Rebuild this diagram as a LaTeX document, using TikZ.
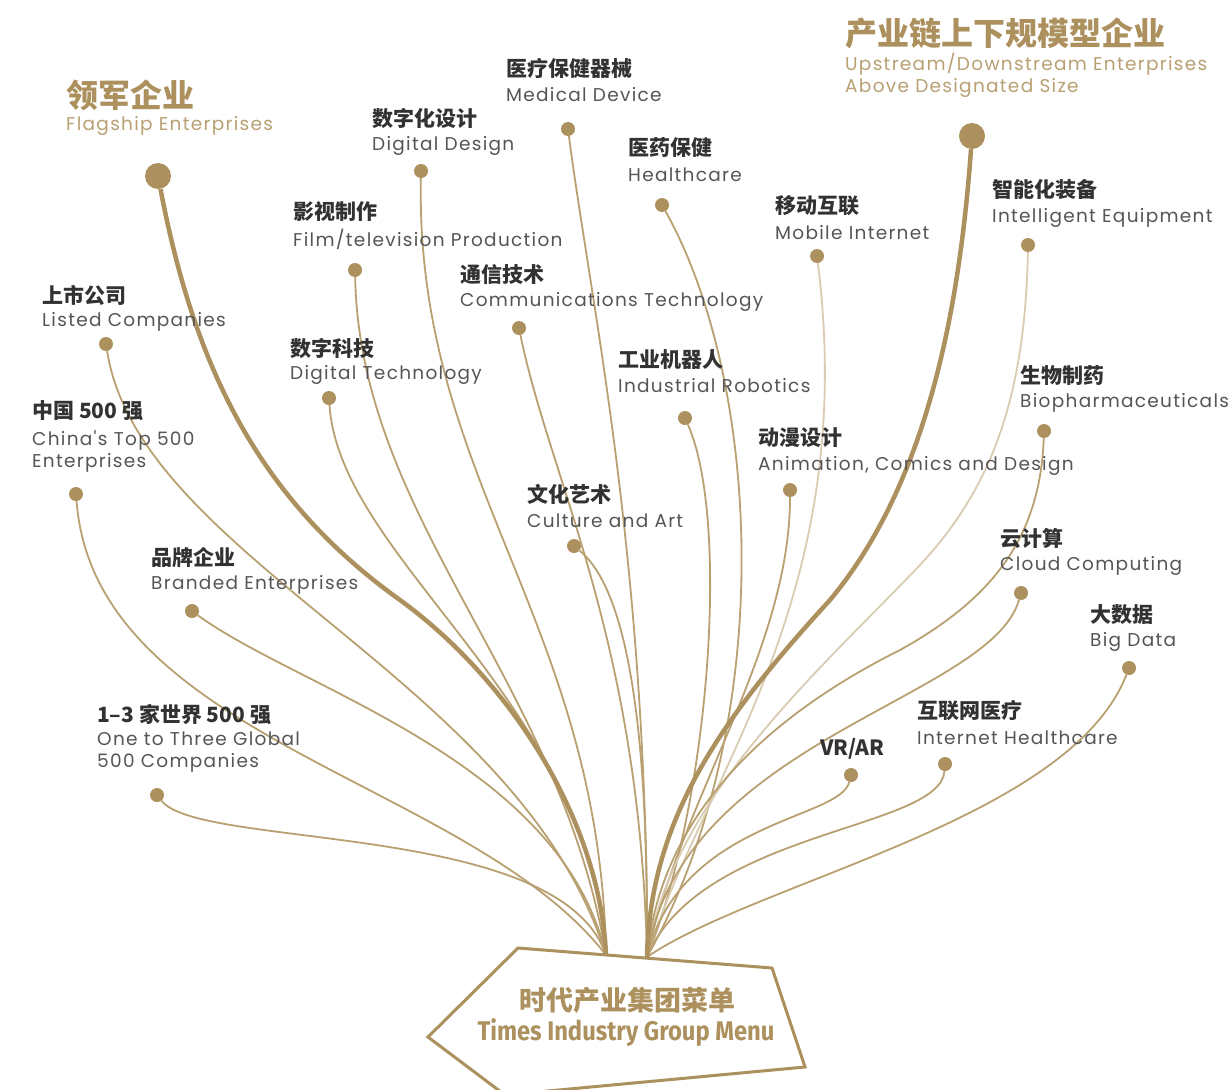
\documentclass[tikz,border=0pt]{standalone}
\usepackage{fontspec}
\newfontfamily\cjk{Noto Sans CJK SC}
\newfontfamily\enf[LetterSpace=7]{Poppins}
\newfontfamily\boxf[FakeStretch=0.88]{Fira Sans}
\definecolor{gold}{RGB}{172,145,94}
\definecolor{goldtxt}{RGB}{185,160,115}
\definecolor{linec}{RGB}{185,160,112}
\definecolor{faint}{RGB}{218,204,178}
\definecolor{cntext}{RGB}{50,50,50}
\definecolor{entext}{RGB}{85,85,85}
\tikzset{
  cn/.style={font=\cjk\bfseries\fontsize{21}{23}\selectfont, text=cntext, anchor=west, inner sep=0},
  en/.style={font=\enf\fontsize{18.5}{22}\selectfont, text=entext, anchor=west, inner sep=0, align=left},
  cnbig/.style={font=\cjk\bfseries\fontsize{32}{34}\selectfont, text=gold, anchor=west, inner sep=0},
  engold/.style={font=\enf\fontsize{18.5}{22}\selectfont, text=goldtxt, anchor=west, inner sep=0, align=left},
  dot/.style={circle, fill=gold, minimum size=14pt, inner sep=0},
  bigdot/.style={circle, fill=gold, minimum size=26pt, inner sep=0},
  link/.style={draw=linec, line width=1.8pt},
  flink/.style={draw=faint, line width=1.8pt},
  trunk/.style={draw=gold, line width=4.5pt},
}
\begin{document}
\begin{tikzpicture}[x=1pt,y=-1pt]
\useasboundingbox[fill=white] (0,0) rectangle (1230,1089);
% trunk ends
\coordinate (L) at (606,955);
\coordinate (R) at (647,957);
% dots
\node[bigdot] (dFlag) at (158,176) {};
\node[bigdot] (dUp) at (972,136) {};
\node[dot] (dMed) at (568,129) {};
\node[dot] (dDD) at (421,171) {};
\node[dot] (dHC) at (662,205) {};
\node[dot] (dFilm) at (355,270) {};
\node[dot] (dMob) at (817,256) {};
\node[dot] (dInt) at (1028,245) {};
\node[dot] (dCom) at (519,328) {};
\node[dot] (dList) at (106,344) {};
\node[dot] (dDT) at (329,398) {};
\node[dot] (dRob) at (685,418) {};
\node[dot] (dBio) at (1044,431) {};
\node[dot] (dChina) at (76,494) {};
\node[dot] (dAni) at (790,490) {};
\node[dot] (dCul) at (574,546) {};
\node[dot] (dCloud) at (1021,593) {};
\node[dot] (dBrand) at (192,611) {};
\node[dot] (dBig) at (1129,668) {};
\node[dot] (dIH) at (945,764) {};
\node[dot] (dVR) at (851,775) {};
\node[dot] (dOne) at (157,795) {};
% left group
\path[link] (dList) .. controls (140,560) and (520,680) .. (L);
\path[link] (dChina) .. controls (95,740) and (470,780) .. (L);
\path[link] (dBrand) .. controls (300,690) and (560,760) .. (L);
\path[link] (dOne) .. controls (200,850) and (560,820) .. (L);
\path[link] (dDT) .. controls (340,560) and (590,700) .. (L);
\path[link] (dFilm) .. controls (360,520) and (560,680) .. (L);
\path[link] (dDD) .. controls (415,480) and (600,620) .. (L);
\path[trunk] (dFlag) .. controls (195,370) and (260,500) .. (400,600) .. controls (510,680) and (600,820) .. (L);
% right group
\path[link] (dCom) .. controls (550,480) and (640,640) .. (R);
\path[link] (dCul) .. controls (640,600) and (648,800) .. (R);
\path[link] (dMed) .. controls (590,300) and (648,560) .. (R);
\path[link] (dHC) .. controls (760,380) and (780,720) .. (R);
\path[link] (dRob) .. controls (730,520) and (710,800) .. (R);
\path[link] (dAni) .. controls (790,650) and (680,800) .. (R);
\path[flink] (dMob) .. controls (860,600) and (700,780) .. (R);
\path[flink] (dInt) .. controls (1025,400) and (990,490) .. (920,565) .. controls (820,670) and (670,800) .. (R);
\path[link] (dBio) .. controls (1040,540) and (990,600) .. (900,650) .. controls (760,720) and (660,820) .. (R);
\path[link] (dCloud) .. controls (990,700) and (680,740) .. (R);
\path[link] (dBig) .. controls (1070,820) and (760,880) .. (R);
\path[link] (dIH) .. controls (940,830) and (700,830) .. (R);
\path[link] (dVR) .. controls (840,820) and (680,820) .. (R);
\path[trunk] (dUp) .. controls (960,300) and (930,480) .. (830,600) .. controls (720,720) and (650,820) .. (R);
% titles
\node[cnbig] (tFlag) at (66,95) {领军企业};
\node[engold] (eFlag) at (66,126) {Flagship Enterprises};
\node[cnbig] (tUp) at (845,33) {产业链上下规模型企业};
\node[engold] (eUp) at (845,75) {Upstream/Downstream Enterprises\\Above Designated Size};
% labels
\node[cn] at (506,68) {医疗保健器械};
\node[en] at (506,95) {Medical Device};
\node[cn] at (372,118) {数字化设计};
\node[en] at (372,146) {Digital Design};
\node[cn] at (628,148) {医药保健};
\node[en] at (628,175) {Healthcare};
\node[cn] at (293,212) {影视制作};
\node[en] at (293,239) {Film/television Production};
\node[cn] at (775,206) {移动互联};
\node[en] at (775,233) {Mobile Internet};
\node[cn] at (992,190) {智能化装备};
\node[en] at (992,218) {Intelligent Equipment};
\node[cn] at (460,275) {通信技术};
\node[en] at (460,302) {Communications Technology};
\node[cn] at (42,295) {上市公司};
\node[en] at (42,322) {Listed Companies};
\node[cn] at (290,348) {数字科技};
\node[en] at (290,375) {Digital Technology};
\node[cn] at (618,360) {工业机器人};
\node[en] at (618,386) {Industrial Robotics};
\node[cn] at (1020,376) {生物制药};
\node[en] at (1020,403) {Biopharmaceuticals};
\node[cn] at (32,411) {中国 500 强};
\node[en] at (32,452) {China's Top 500\\Enterprises};
\node[cn] at (758,438) {动漫设计};
\node[en] at (758,466) {Animation, Comics and Design};
\node[cn] at (527,494) {文化艺术};
\node[en] at (527,521) {Culture and Art};
\node[cn] at (1000,539) {云计算};
\node[en] at (1000,566) {Cloud Computing};
\node[cn] at (151,557) {品牌企业};
\node[en] at (151,585) {Branded Enterprises};
\node[cn] at (1090,615) {大数据};
\node[en] at (1090,642) {Big Data};
\node[cn] at (917,711) {互联网医疗};
\node[en] at (917,738) {Internet Healthcare};
\node[cn] at (820,749) {VR/AR};
\node[cn] at (97,714) {1–3 家世界 500 强};
\node[en] at (97,752) {One to Three Global\\500 Companies};
% menu box
\draw[gold, line width=3pt, line join=miter] (518,948) -- (772,968) -- (805,1067) -- (505,1095) -- (428,1037) -- cycle;
\node[font=\cjk\bfseries\fontsize{27}{29}\selectfont, text=gold] (mcn) at (627,1000) {时代产业集团菜单};
\node[font=\boxf\bfseries\fontsize{27}{29}\selectfont, text=gold] (men) at (626,1033) {Times Industry Group Menu};
\end{tikzpicture}
\end{document}
